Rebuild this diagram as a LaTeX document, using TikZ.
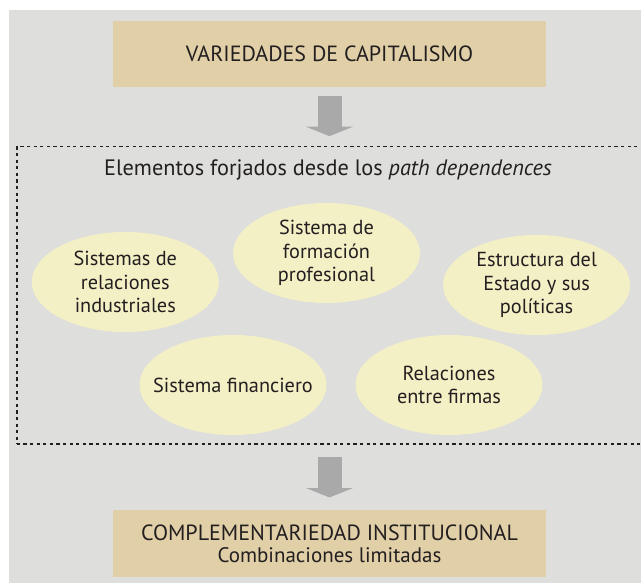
\documentclass[tikz,border=0pt]{standalone}
\usepackage{fontspec}
\setmainfont{PT Sans}
\usepackage{tikz}
\usetikzlibrary{shapes.geometric, arrows.meta, positioning, calc}
\definecolor{Panel}{HTML}{DEDEDC}
\definecolor{Sand}{HTML}{E0CFA7}
\definecolor{Cream}{HTML}{F4F0C6}
\definecolor{ArrowGray}{HTML}{A9A9A9}
\definecolor{Ink}{HTML}{231F20}
\tikzset{
  sandbox/.style={rectangle, fill=Sand, text=Ink, minimum width=433pt,
                  minimum height=66.5pt, inner sep=0pt, align=center,
                  font=\fontsize{22}{22}\selectfont},
  blob/.style={ellipse, fill=Cream, text=Ink, minimum width=187pt,
               minimum height=100pt, inner ysep=0pt, inner xsep=-14pt,
               align=center, font=\fontsize{20.3}{23.5}\selectfont},
  bigarrow/.style={draw=ArrowGray, line width=24pt,
                   -{Triangle[length=9.5pt, width=47pt, line width=0pt]}}
}

\begin{document}
\begin{tikzpicture}[x=1pt, y=-1pt]
    % Background panel
    \useasboundingbox (0,0) rectangle (641,583);
    \fill[white] (0,0) rectangle (641,583);
    \fill[Panel] (9,10) rectangle (641,583);

    % Top and bottom boxes
    \node[sandbox] (vdc) at (329.5,54.25) {VARIEDADES DE CAPITALISMO};
    \node[sandbox, minimum height=66.7pt] (ci) at (329.5,543.35)
        {COMPLEMENTARIEDAD INSTITUCIONAL\\
         {\fontsize{21}{22}\selectfont Combinaciones limitadas}};

    % Dotted frame
    \node[rectangle, draw=Ink, line width=1.6pt, dash pattern=on 3.3pt off 3.3pt,
          minimum width=660pt, minimum height=297.3pt, inner sep=0pt]
          (frame) at (346.7,295.35) {};
    \node[text=Ink, font=\fontsize{22.3}{22}\selectfont] (title) at (328,170)
        {Elementos forjados desde los \textit{path dependences}};

    % Five elements
    \node[blob] (sri) at (125.3,282) {Sistemas de\\relaciones\\industriales};
    \node[blob] (sfp) at (326.5,253) {Sistema de\\formación\\profesional};
    \node[blob] (edp) at (536.6,285) {Estructura del\\Estado y sus\\políticas};
    \node[blob] (sfi) at (233,385) {Sistema financiero};
    \node[blob] (ref) at (449,385) {Relaciones\\entre firmas};

    % Arrows
    \draw[bigarrow, shorten <=8.5pt, shorten >=9.7pt]
        (vdc.south) -- (vdc.south |- frame.north);
    \draw[bigarrow, shorten <=12pt, shorten >=12.3pt]
        (frame.south -| ci.north) -- (ci.north);
\end{tikzpicture}
\end{document}
